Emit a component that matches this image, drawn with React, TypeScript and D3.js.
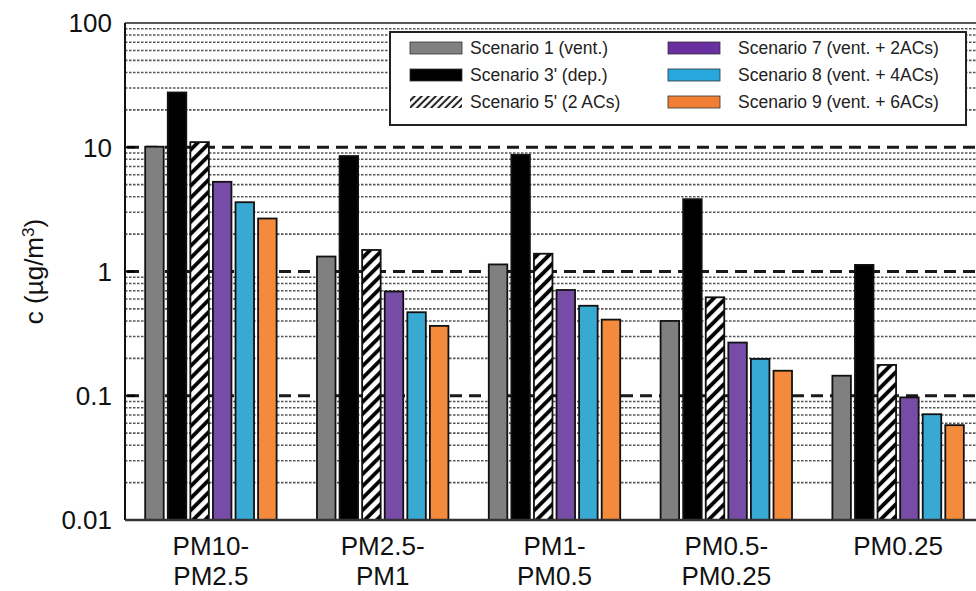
import React from "react";
import * as d3 from "d3";

const categories = ["PM10-\nPM2.5", "PM2.5-\nPM1", "PM1-\nPM0.5", "PM0.5-\nPM0.25", "PM0.25"];
const seriesNames = [
  "Scenario 1 (vent.)",
  "Scenario 3' (dep.)",
  "Scenario 5' (2 ACs)",
  "Scenario 7 (vent. + 2ACs)",
  "Scenario 8 (vent. + 4ACs)",
  "Scenario 9 (vent. + 6ACs)",
];
const scenario1 = [10.1, 1.32, 1.14, 0.4, 0.145];
const scenario3 = [27.6, 8.5, 8.7, 3.82, 1.13];
const scenario5 = [11.0, 1.49, 1.39, 0.62, 0.177];
const scenario7 = [5.27, 0.69, 0.71, 0.268, 0.097];
const scenario8 = [3.61, 0.47, 0.53, 0.198, 0.071];
const scenario9 = [2.67, 0.365, 0.41, 0.159, 0.058];
const seriesValues = [scenario1, scenario3, scenario5, scenario7, scenario8, scenario9];
const seriesFills = ["#808080", "#000000", "url(#hatch)", "#774ca6", "#38a9d3", "#f48b3c"];
const legendFills = ["#808080", "#000000", "url(#hatchL)", "#6a2fa0", "#27a8dc", "#f07e34"];
const yTicks = [0.01, 0.1, 1, 10, 100];
const yTickLabels = ["0.01", "0.1", "1", "10", "100"];

const W = 976;
const H = 591;
const X0 = 125;
const X1 = 984;
const YB = 520;
const YT = 23;

export default function App() {
  const x0 = d3.scaleBand<string>().domain(categories).range([X0, X1]).paddingInner(0.235).paddingOuter(0.1175);
  const x1 = d3.scaleBand<string>().domain(seriesNames).range([0, x0.bandwidth()]).paddingInner(0.18).paddingOuter(0);
  const y = d3.scaleLog().domain([0.01, 100]).range([YB, YT]);

  const minors: number[] = [];
  [0.01, 0.1, 1, 10].forEach((d) => {
    for (let k = 2; k <= 9; k++) minors.push(+(k * d).toPrecision(3));
  });
  const majors = [0.1, 1, 10];
  const font = "'Liberation Sans', Arial, sans-serif";

  const legendCols = [
    { sw: 410, tx: 470 },
    { sw: 668, tx: 738 },
  ];
  const legendRows = [48, 75, 102];

  return (
    <svg width={W} height={H} style={{ position: "absolute", left: 0, top: 0, background: "#fff" }} fontFamily={font}>
      <defs>
        <pattern id="hatch" patternUnits="userSpaceOnUse" width={8.5} height={8.5} patternTransform="rotate(45)">
          <rect width={8.5} height={8.5} fill="#fff" />
          <line x1={2} y1={0} x2={2} y2={8.5} stroke="#000" strokeWidth={3.8} />
        </pattern>
        <pattern id="hatchL" patternUnits="userSpaceOnUse" width={5} height={5} patternTransform="rotate(45)">
          <rect width={5} height={5} fill="#fff" />
          <line x1={1.2} y1={0} x2={1.2} y2={5} stroke="#000" strokeWidth={1.8} />
        </pattern>
      </defs>
      <rect width={W} height={H} fill="#fff" />
      {/* minor grid */}
      {minors.map((v) => (
        <line key={"mn" + v} x1={X0} x2={W} y1={y(v)} y2={y(v)} stroke="#555" strokeWidth={1.6} strokeDasharray="2.5,1.5" />
      ))}
      {/* major grid */}
      {majors.map((v) => (
        <g key={"mj" + v}>
          <line x1={X0 + 2} x2={W} y1={y(v)} y2={y(v)} stroke="#1a1a1a" strokeWidth={2.8} strokeDasharray="12,7" />
          <line x1={X0} x2={X0 + 10} y1={y(v)} y2={y(v)} stroke="#000" strokeWidth={2} />
        </g>
      ))}
      {/* bars */}
      {categories.map((c, ci) => (
        <g key={c} transform={`translate(${x0(c)},0)`}>
          {seriesNames.map((s, si) => {
            const v = seriesValues[si][ci];
            const top = y(v);
            return (
              <rect
                key={s}
                x={x1(s)}
                y={top}
                width={x1.bandwidth()}
                height={YB - top}
                fill={seriesFills[si]}
                stroke="#111"
                strokeWidth={1.8}
              />
            );
          })}
        </g>
      ))}
      {/* axes frame */}
      <line x1={X0} x2={W} y1={YT} y2={YT} stroke="#222" strokeWidth={1.5} />
      <line x1={X0} x2={X0} y1={YT} y2={YB} stroke="#111" strokeWidth={2} />
      <line x1={X0} x2={W} y1={YB} y2={YB} stroke="#333" strokeWidth={2.5} />
      {/* y tick labels */}
      {yTicks.map((v, i) => (
        <text key={"yt" + v} x={112} y={y(v)} dy="0.36em" textAnchor="end" fontSize={26} fill="#111">
          {yTickLabels[i]}
        </text>
      ))}
      {/* y title */}
      <text transform={`translate(43,${(YT + YB) / 2}) rotate(-90)`} textAnchor="middle" fontSize={26} fill="#111">
        c (µg/m<tspan dy={-9} fontSize={17}>3</tspan>
        <tspan dy={9}>)</tspan>
      </text>
      {/* x labels */}
      {categories.map((c) => (
        <text key={"xl" + c} x={(x0(c) as number) + x0.bandwidth() / 2} y={555} textAnchor="middle" fontSize={26} fill="#111">
          {c.split("\n").map((part, i) => (
            <tspan key={i} x={(x0(c) as number) + x0.bandwidth() / 2} dy={i === 0 ? 0 : 30}>
              {part}
            </tspan>
          ))}
        </text>
      ))}
      {/* legend */}
      <rect x={390} y={32} width={576} height={93} fill="#fff" stroke="#222" strokeWidth={2} />
      {seriesNames.map((s, si) => {
        const col = legendCols[Math.floor(si / 3)];
        const ry = legendRows[si % 3];
        return (
          <g key={"lg" + s}>
            <rect x={col.sw} y={ry - 6} width={52} height={12} fill={legendFills[si]} stroke={si === 2 ? "none" : "#333"} strokeWidth={0.8} />
            <text x={col.tx} y={ry} dy="0.36em" fontSize={17.5} fill="#222">
              {s}
            </text>
          </g>
        );
      })}
    </svg>
  );
}
